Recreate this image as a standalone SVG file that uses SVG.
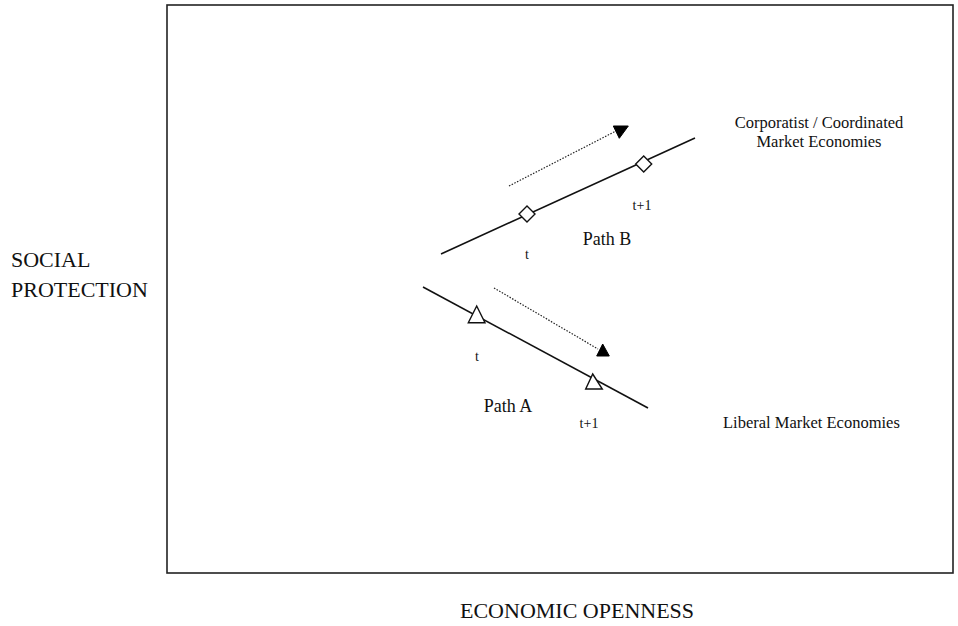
<svg xmlns="http://www.w3.org/2000/svg" width="958" height="626" viewBox="0 0 958 626">
<style>
text{font-family:"Liberation Serif","Times New Roman",serif;fill:#111}
.ax{font-size:22px}
.lab{font-size:16.5px}
.path{font-size:18px}
.tk{font-size:14px}
.ln{stroke:#111;stroke-width:1.6;fill:none}
.dot{stroke:#222;stroke-width:1.2;stroke-dasharray:1.5 1.5;fill:none}
.mk{fill:#fff;stroke:#111;stroke-width:1.4}
.head{fill:#000;stroke:#000;stroke-width:1}
</style>
<rect width="958" height="626" fill="#fff"/>
<g id="frame"><rect x="167" y="5" width="786" height="568" fill="none" stroke="#222" stroke-width="1.6"/></g>
<g id="connectors">
<line class="ln" x1="441" y1="254" x2="695" y2="138"/>
<line class="ln" x1="423" y1="287" x2="648" y2="408"/>
<line class="dot" x1="509" y1="186" x2="616" y2="131"/>
<polygon class="head" points="613.3,126 628.3,126 619.3,138.3"/>
<line class="dot" x1="494" y1="288" x2="598" y2="349"/>
<polygon class="head" points="596.7,356 609.3,356 602.7,344"/>
</g>
<g id="pathB">
<polygon class="mk" points="527,206 535,214 527,222 519,214"/>
<polygon class="mk" points="643.7,156 651.7,164 643.7,172 635.7,164"/>
<text class="tk" x="527" y="259" text-anchor="middle">t</text>
<text class="tk" x="642" y="210" text-anchor="middle">t+1</text>
<text class="path" x="607" y="245" text-anchor="middle">Path B</text>
</g>
<g id="pathA">
<polygon class="mk" points="476.7,306 485,322.7 468.3,322.7"/>
<polygon class="mk" points="592.7,374 602.3,389 585.7,389"/>
<text class="tk" x="477" y="361" text-anchor="middle">t</text>
<text class="tk" x="589" y="428" text-anchor="middle">t+1</text>
<text class="path" x="508" y="412" text-anchor="middle">Path A</text>
</g>
<g id="cme">
<text class="lab" x="819" y="128" text-anchor="middle">Corporatist / Coordinated</text>
<text class="lab" x="819" y="147" text-anchor="middle">Market Economies</text>
</g>
<g id="lme"><text class="lab" x="723" y="428">Liberal Market Economies</text></g>
<g id="yaxis">
<text class="ax" x="11" y="267">SOCIAL</text>
<text class="ax" x="11" y="297">PROTECTION</text>
</g>
<g id="xaxis"><text class="ax" x="460" y="618">ECONOMIC OPENNESS</text></g>
</svg>
